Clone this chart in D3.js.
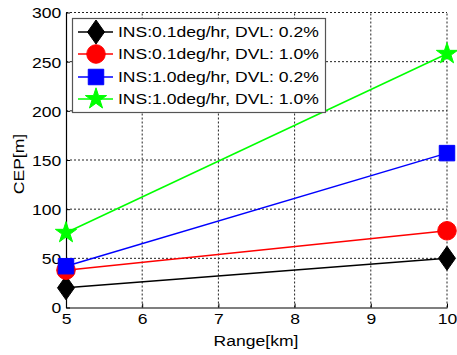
<!DOCTYPE html>
<html><head><meta charset="utf-8">
<script src="https://cdn.jsdelivr.net/npm/d3@7"></script>
<style>body{margin:0;background:#fff}svg{display:block}</style>
</head><body><svg id="c" width="457" height="355"></svg>
<script>
const ranges = [5, 10];
const seriesNames = ["INS:0.1deg/hr, DVL: 0.2%", "INS:0.1deg/hr, DVL: 1.0%", "INS:1.0deg/hr, DVL: 0.2%", "INS:1.0deg/hr, DVL: 1.0%"];
const cepA = [20, 50];
const cepB = [38, 78];
const cepC = [42, 157];
const cepD = [76, 258];
const xTicks = [5, 6, 7, 8, 9, 10];
const yTicks = [0, 50, 100, 150, 200, 250, 300];
const colors = ["#000000", "#ff0000", "#0000ff", "#00ff00"];

const diamond = { draw(ctx) { ctx.moveTo(0, -12); ctx.lineTo(8.5, 0); ctx.lineTo(0, 12); ctx.lineTo(-8.5, 0); ctx.closePath(); } };
const symbols = [diamond, d3.symbolCircle, d3.symbolSquare, d3.symbolStar];
const sizes = [1, 270, 240, 140];

const svg = d3.select("#c");
const font = "Arial, 'Liberation Sans', sans-serif";
const SX = 1.17;
const x = d3.scaleLinear().domain([5, 10]).range([66, 447]);
const y = d3.scaleLinear().domain([0, 300]).range([307.5, 12.5]);

// grid
const g = svg.append("g");
g.selectAll(".vg").data(xTicks.slice(1)).join("line")
  .attr("x1", d => x(d)).attr("x2", d => x(d)).attr("y1", y(0)).attr("y2", y(300))
  .attr("stroke", "#222").attr("stroke-width", 1).attr("stroke-dasharray", "2,2");
g.selectAll(".hg").data(yTicks.slice(1)).join("line")
  .attr("x1", x(5)).attr("x2", x(10)).attr("y1", d => y(d)).attr("y2", d => y(d))
  .attr("stroke", "#222").attr("stroke-width", 1).attr("stroke-dasharray", "2,2");

// axes
const xa = svg.append("g").attr("transform", `translate(0,${y(0)})`)
  .call(d3.axisBottom(x).tickValues(xTicks).tickFormat(d3.format("d")).tickSizeInner(-4).tickSizeOuter(0).tickPadding(6));
const ya = svg.append("g").attr("transform", `translate(${x(5)},0)`)
  .call(d3.axisLeft(y).tickValues(yTicks).tickFormat(d3.format("d")).tickSizeInner(-4).tickSizeOuter(0).tickPadding(4));
[xa, ya].forEach(a => {
  a.select(".domain").attr("stroke", "#000").attr("stroke-width", 1.2);
  a.selectAll(".tick line").attr("stroke", "#000");
  a.selectAll("text").attr("font-family", font).attr("font-size", 15).attr("fill", "#000")
    .attr("transform", `scale(${SX},1)`);
});
xa.selectAll("text").attr("dy", "0.71em");
ya.selectAll("text").attr("dy", "0.36em");

svg.append("text").attr("transform", `translate(256,346) scale(${SX},1)`).attr("text-anchor", "middle")
  .attr("font-family", font).attr("font-size", 15).text("Range[km]");
svg.append("text").attr("transform", `translate(24,164) rotate(-90) scale(${SX},1)`).attr("text-anchor", "middle")
  .attr("font-family", font).attr("font-size", 15).text("CEP[m]");

// series
const all = [cepA, cepB, cepC, cepD];
const line = d3.line().x((d, i) => x(ranges[i])).y(d => y(d));
all.forEach((vals, k) => {
  svg.append("path").attr("d", line(vals)).attr("fill", "none")
    .attr("stroke", colors[k]).attr("stroke-width", 1.5);
});
all.forEach((vals, k) => {
  svg.selectAll(null).data(vals).join("path")
    .attr("d", d3.symbol().type(symbols[k]).size(sizes[k]))
    .attr("transform", (d, i) => `translate(${x(ranges[i])},${y(d)})`)
    .attr("fill", colors[k]).attr("stroke", colors[k]).attr("stroke-width", 1);
});

// legend
const lg = svg.append("g");
lg.append("rect").attr("x", 72.5).attr("y", 18.5).attr("width", 253).attr("height", 94)
  .attr("fill", "#fff").attr("stroke", "#555").attr("stroke-width", 1.2);
const rowY = [32, 54, 77, 99];
seriesNames.forEach((name, k) => {
  lg.append("line").attr("x1", 78).attr("x2", 113).attr("y1", rowY[k]).attr("y2", rowY[k])
    .attr("stroke", colors[k]).attr("stroke-width", 1.5);
  lg.append("path").attr("d", d3.symbol().type(symbols[k]).size(sizes[k]))
    .attr("transform", `translate(96,${rowY[k]})`)
    .attr("fill", colors[k]).attr("stroke", colors[k]);
  lg.append("text").attr("transform", `translate(118,${rowY[k]}) scale(${SX},1)`).attr("dy", "0.36em")
    .attr("font-family", font).attr("font-size", 15).text(name);
});
</script></body></html>
